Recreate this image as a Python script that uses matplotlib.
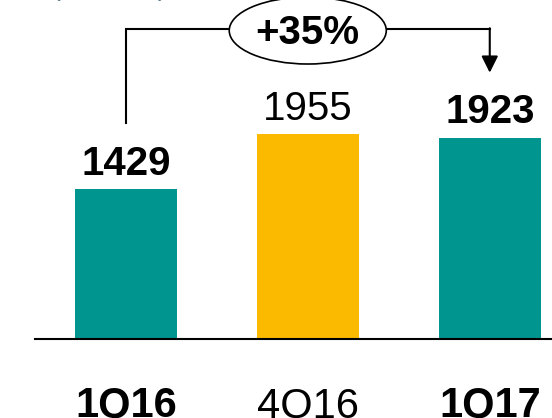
import numpy as np
import matplotlib
matplotlib.use("Agg")
import matplotlib.pyplot as plt
from matplotlib.patches import Ellipse

plt.rcParams['font.family'] = ['Liberation Sans', 'DejaVu Sans']

periods = ['1Q16', '4Q16', '1Q17']
values = [1429, 1955, 1923]
bold = [True, False, True]
colors = ['#00968F', '#FBBA00', '#00968F']
growth_label = '+35%'

fig = plt.figure(figsize=(5.52, 4.18), dpi=100)
ax = fig.add_axes([0, 0, 1, 1])
ax.set_xlim(-0.691, 2.342)
ax.set_ylim(-758, 3238)
ax.axis('off')

x = np.arange(len(values))
ax.bar(x, values, width=0.56, color=colors, zorder=2)
ax.axhline(0, xmin=34.5 / 552, xmax=1, color='black', lw=1.5, zorder=3)

for xi, v, b in zip(x, values, bold):
    ax.annotate(str(v), xy=(xi, v), xytext=(0, 10.5), textcoords='offset points',
                ha='center', va='baseline', fontsize=29,
                fontweight='bold' if b else 'normal')
for xi, p, b in zip(x, periods, bold):
    ax.text(xi, -752, p, ha='center', va='baseline', fontsize=30,
            fontweight='bold' if b else 'normal')

# growth bracket from the first to the last quarter
y_top = 2961
ax.plot([0, 0, 0.569], [2065, y_top, y_top], color='black', lw=1.5,
        solid_joinstyle='miter')
ax.plot([1.434, 2], [y_top, y_top], color='black', lw=1.5)
ax.annotate('', xy=(2, 2543), xytext=(2, y_top + 7),
            arrowprops=dict(arrowstyle='-|>,head_length=0.5,head_width=0.25',
                            mutation_scale=20, color='black', lw=1.5,
                            shrinkA=0, shrinkB=0))
ax.add_patch(Ellipse((1.0, y_top - 15), 0.863, 640, facecolor='white',
                     edgecolor='black', lw=1.2, zorder=4))
ax.text(1.0, y_top, growth_label, ha='center', va='center_baseline',
        fontsize=29, fontweight='bold', zorder=5)

fig.text(52 / 552, 1.009, '(€ million)', fontsize=19, color='#5B7B8C',
         ha='left', va='baseline')

fig.savefig('out.png', dpi=100)
